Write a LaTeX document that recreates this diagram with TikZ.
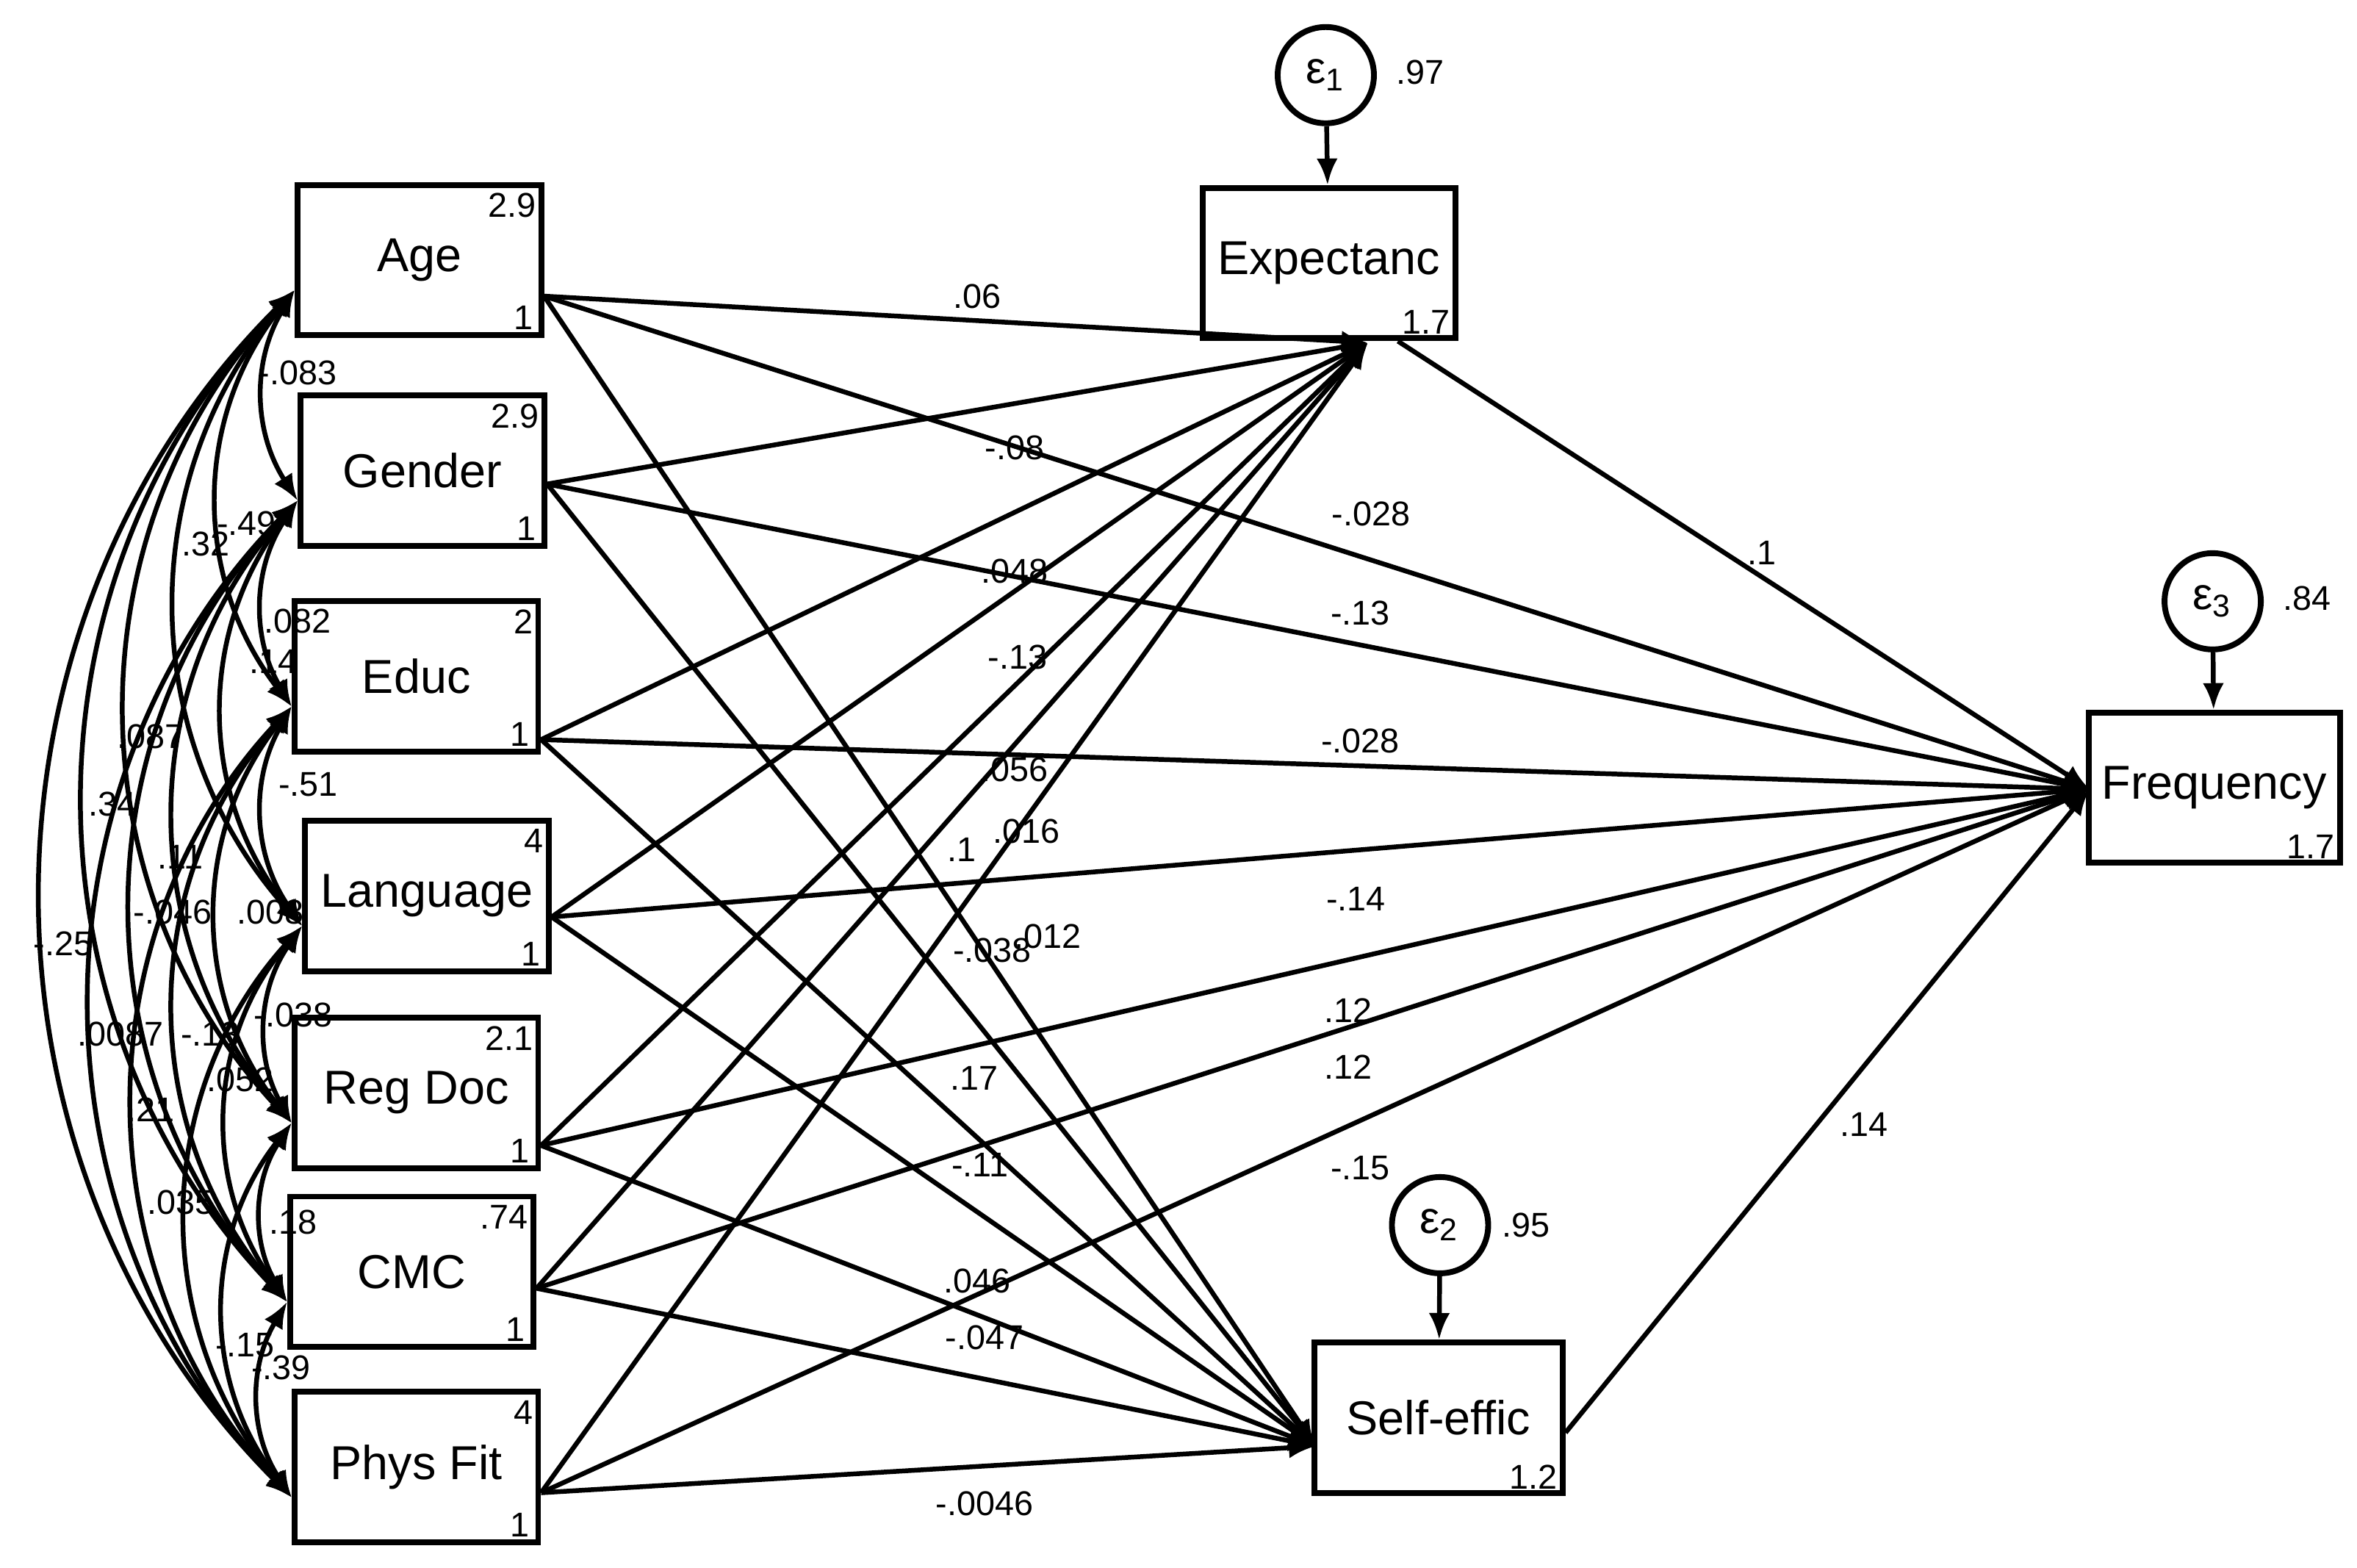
\documentclass[tikz,border=0pt]{standalone}
\usepackage{fontspec}
\setmainfont{Liberation Sans}
\usetikzlibrary{arrows.meta,positioning}

\begin{document}
\begin{tikzpicture}[x=0.01cm,y=-0.01cm,line width=0.9pt,
  >={Latex[length=5pt,width=4pt]},
  var/.style={draw,line width=1.1pt,minimum width=1.62cm,minimum height=1cm,
    inner sep=0pt,font=\fontsize{9}{10}\selectfont},
  err/.style={draw,circle,line width=1.1pt,minimum size=0.64cm,inner sep=0pt,
    font=\fontsize{8.5}{9}\selectfont},
  lab/.style={font=\fontsize{6.5}{7}\selectfont,inner sep=0pt},
  path/.style={->},
  cov/.style={<->}]
\useasboundingbox (0,0) rectangle (1568,1043);
% exogenous variables
\node[var] (age)    at (279,173) {Age};
\node[var] (gender) at (281,313) {Gender};
\node[var] (educ)   at (277,450) {Educ};
\node[var] (lang)   at (284,596) {Language};
\node[var] (regdoc) at (277,727) {Reg Doc};
\node[var] (cmc)    at (274,846) {CMC};
\node[var] (phys)   at (277,976) {Phys Fit};
% endogenous variables
\node[var,minimum width=1.68cm] (expect) at (884,175) {Expectanc};
\node[var,minimum width=1.67cm] (freq)   at (1473,524) {Frequency};
\node[var,minimum width=1.65cm] (self)   at (957,943) {Self-effic};
\node[err] (e1) at (882,50)  {ε\textsubscript{1}};
\node[err] (e2) at (958,815) {ε\textsubscript{2}};
\node[err] (e3) at (1472,400){ε\textsubscript{3}};
\draw[path] (e1) -- (expect);
\draw[path] (e2) -- (self);
\draw[path] (e3) -- (freq);
% structural paths
\coordinate (te) at (910,228);
\coordinate (tf) at (1390,525);
\coordinate (ts) at (875,962);
\foreach \n/\dy in {age/24,gender/9,educ/42,lang/14,regdoc/35,cmc/11,phys/17}{
  \draw[path] ([yshift=-\dy*0.01cm]\n.east) -- (te);
  \draw[path] ([yshift=-\dy*0.01cm]\n.east) -- (tf);
  \draw[path] ([yshift=-\dy*0.01cm]\n.east) -- (ts);
}
\draw[path] (expect.south east) ++(-40,0) coordinate (ex) (ex) -- (tf);
\draw[path] ([yshift=-0.1cm]self.east) -- (tf);
% covariances
\foreach \a/\b/\ang in {age/gender/32,age/educ/38,age/lang/41,age/regdoc/43,age/cmc/44,age/phys/45,
  gender/educ/32,gender/lang/38,gender/regdoc/41,gender/cmc/43,gender/phys/44,
  educ/lang/32,educ/regdoc/38,educ/cmc/41,educ/phys/43,
  lang/regdoc/32,lang/cmc/38,lang/phys/41,
  regdoc/cmc/32,regdoc/phys/38,cmc/phys/32}{
  \draw[cov] ([yshift=-0.2cm]\a.west) to[bend right=\ang] ([yshift=-0.2cm]\b.west);
}
% variances and intercepts
\foreach \n/\v in {age/2.9,gender/2.9,educ/2,lang/4,regdoc/2.1,cmc/.74,phys/4}{
  \node[lab,anchor=north east] at ([shift={(-4,6)}]\n.north east) {\v};
  \node[lab,anchor=south east] at ([shift={(-6,-4)}]\n.south east) {1};
}
\node[lab,anchor=south east] at ([shift={(-4,-3)}]expect.south east) {1.7};
\node[lab,anchor=south east] at ([shift={(-4,-3)}]freq.south east) {1.7};
\node[lab,anchor=south east] at ([shift={(-4,-3)}]self.south east) {1.2};
\node[lab] at (945,48) {.97};
\node[lab] at (1015,815) {.95};
\node[lab] at (1535,398) {.84};
% path coefficients
\foreach \x/\y/\t in {650/197/.06,675/298/-.08,912/342/-.028,675/380/.048,905/408/-.13,
  677/437/-.13,905/493/-.028,675/512/.056,640/565/.1,683/553/.016,902/598/-.14,
  660/632/-.038,697/623/.012,897/672/.12,897/710/.12,648/717/.17,652/775/-.11,
  905/777/-.15,650/852/.046,655/890/-.047,655/1000/-.0046,1172/368/.1,1240/748/.14}{
  \node[lab] at (\x,\y) {\t};
}
% covariance coefficients
\foreach \x/\y/\t in {198/248/-.083,164/348/-.49,137/362/.32,198/413/.082,182/440/.14,
  100/490/.087,205/522/-.51,75/535/.34,120/570/.11,115/607/-.046,180/607/.008,
  42/628/-.25,195/675/-.038,80/688/.0087,140/688/-.13,160/718/.052,100/738/.21,
  195/813/.18,120/800/.035,163/895/-.15,187/910/-.39}{
  \node[lab] at (\x,\y) {\t};
}
\end{tikzpicture}
\end{document}
